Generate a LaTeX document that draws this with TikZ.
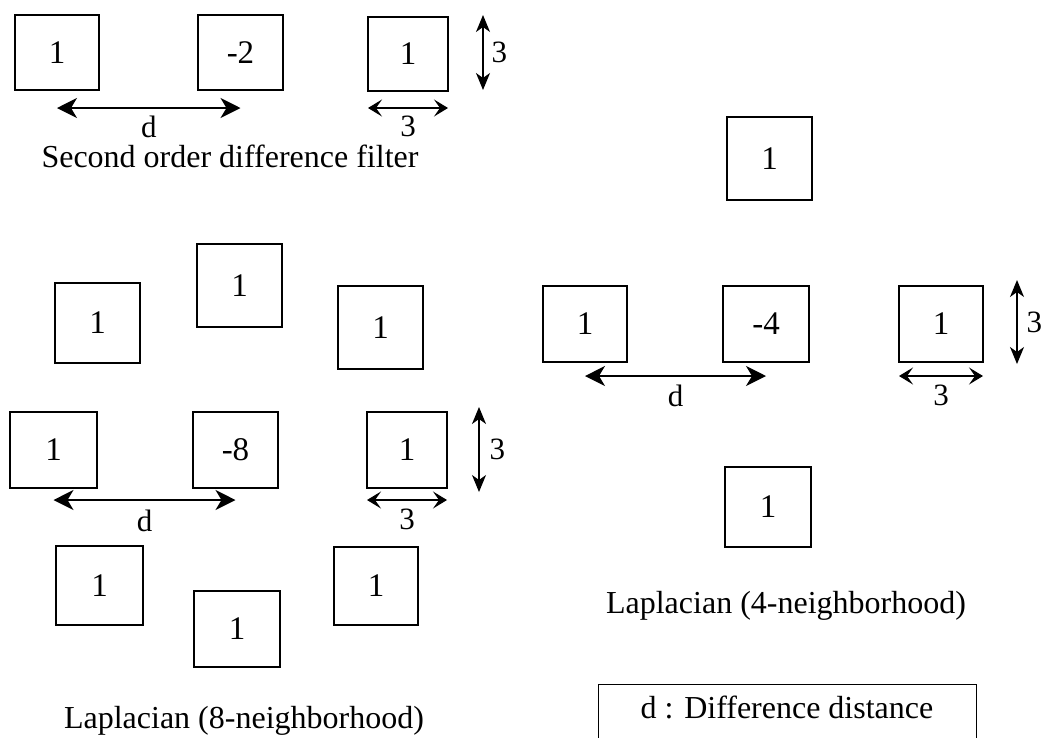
\documentclass[tikz,border=0pt]{standalone}
\usepackage{fontspec}
\setmainfont{Liberation Serif}
\usetikzlibrary{arrows.meta}
\begin{document}
\begin{tikzpicture}[x=1pt,y=-1pt,
  cell/.style={draw, line width=1.8pt, inner sep=0pt, outer sep=0pt,
               font=\fontsize{33}{40}\selectfont},
  sz/.style 2 args={minimum width=#1pt, minimum height=#2pt},
  lab/.style={font=\fontsize{31}{37}\selectfont, inner sep=0pt},
  title/.style={font=\fontsize{32}{38}\selectfont, inner sep=0pt},
  darrow/.style={line width=1.4pt,
    {Stealth[length=20pt,width=20pt,inset=6pt]}-{Stealth[length=20pt,width=20pt,inset=6pt]}},
  harrow/.style={line width=1.3pt,
    {Stealth[length=14pt,width=17pt,inset=6pt]}-{Stealth[length=14pt,width=17pt,inset=6pt]}},
  varrow/.style={line width=1.3pt,
    {Stealth[length=17pt,width=14pt,inset=5pt]}-{Stealth[length=17pt,width=14pt,inset=5pt]}},
  legframe/.style={draw, line width=1pt, inner sep=0pt, outer sep=0pt}]
\useasboundingbox (0,0) rectangle (1043,737);
\clip (0,0) rectangle (1043,737);

% ---- Second order difference filter ----
\node[cell, sz={84}{75}] (s1) at (57,52.5) {1};
\node[cell, sz={85}{75}] (s2) at (240.5,52.5) {-2};
\node[cell, sz={80}{74}] (s3) at (408,54) {1};
\draw[darrow] ([yshift=-18pt]s1.south) -- ([yshift=-18pt]s2.south)
  node[lab, midway, below=7pt] (s-d) {d};
\draw[harrow] ([yshift=-17pt]s3.south west) -- ([yshift=-17pt]s3.south east)
  node[lab, midway, below=7pt] (s-w) {3};
\draw[varrow] ([xshift=35pt,yshift=2pt]s3.north east) -- ([xshift=35pt,yshift=1pt]s3.south east)
  node[lab, midway, right=8pt] (s-h) {3};
\node[title, anchor=base] (t1) at (230,167) {Second order difference filter};

% ---- Laplacian, 8-neighbourhood ----
\node[cell, sz={85}{80}] (e1) at (97.5,323) {1};
\node[cell, sz={85}{83}] (e2) at (239.5,285.5) {1};
\node[cell, sz={85}{83}] (e3) at (380.5,327.5) {1};
\node[cell, sz={87}{76}] (e4) at (53.5,450) {1};
\node[cell, sz={85}{76}] (e5) at (235.5,450) {-8};
\node[cell, sz={80}{76}] (e6) at (407,450) {1};
\node[cell, sz={87}{79}] (e7) at (99.5,585.5) {1};
\node[cell, sz={86}{76}] (e8) at (237,629) {1};
\node[cell, sz={84}{78}] (e9) at (376,586) {1};
\draw[darrow] ([yshift=-12pt]e4.south) -- ([yshift=-12pt]e5.south)
  node[lab, midway, below=9pt] (e-d) {d};
\draw[harrow] ([yshift=-12pt]e6.south west) -- ([yshift=-12pt]e6.south east)
  node[lab, midway, below=8pt] (e-w) {3};
\draw[varrow] ([xshift=32pt,yshift=5pt]e6.north east) -- ([xshift=32pt,yshift=-4pt]e6.south east)
  node[lab, midway, right=10pt] (e-h) {3};
\node[title, anchor=base] (t2) at (244,728) {Laplacian (8-neighborhood)};

% ---- Laplacian, 4-neighbourhood ----
\node[cell, sz={85}{83}] (f1) at (769.5,158.5) {1};
\node[cell, sz={84}{76}] (f2) at (585,324) {1};
\node[cell, sz={86}{76}] (f3) at (766,324) {-4};
\node[cell, sz={84}{76}] (f4) at (941,324) {1};
\node[cell, sz={86}{80}] (f5) at (768,507) {1};
\draw[darrow] ([yshift=-14pt]f2.south) -- ([yshift=-14pt]f3.south)
  node[lab, midway, below=8pt] (f-d) {d};
\draw[harrow] ([yshift=-14pt]f4.south west) -- ([yshift=-14pt]f4.south east)
  node[lab, midway, below=8pt] (f-w) {3};
\draw[varrow] ([xshift=34pt,yshift=6pt]f4.north east) -- ([xshift=34pt,yshift=-2pt]f4.south east)
  node[lab, midway, right=9pt] (f-h) {3};
\node[title, anchor=base] (t3) at (786,613) {Laplacian (4-neighborhood)};

% ---- legend ----
\node[legframe, minimum width=378pt, minimum height=80pt, anchor=north] (legend) at (787,684) {};
\node[title, anchor=base] (legtext) at (787,718) {d : Difference distance};
\end{tikzpicture}
\end{document}
